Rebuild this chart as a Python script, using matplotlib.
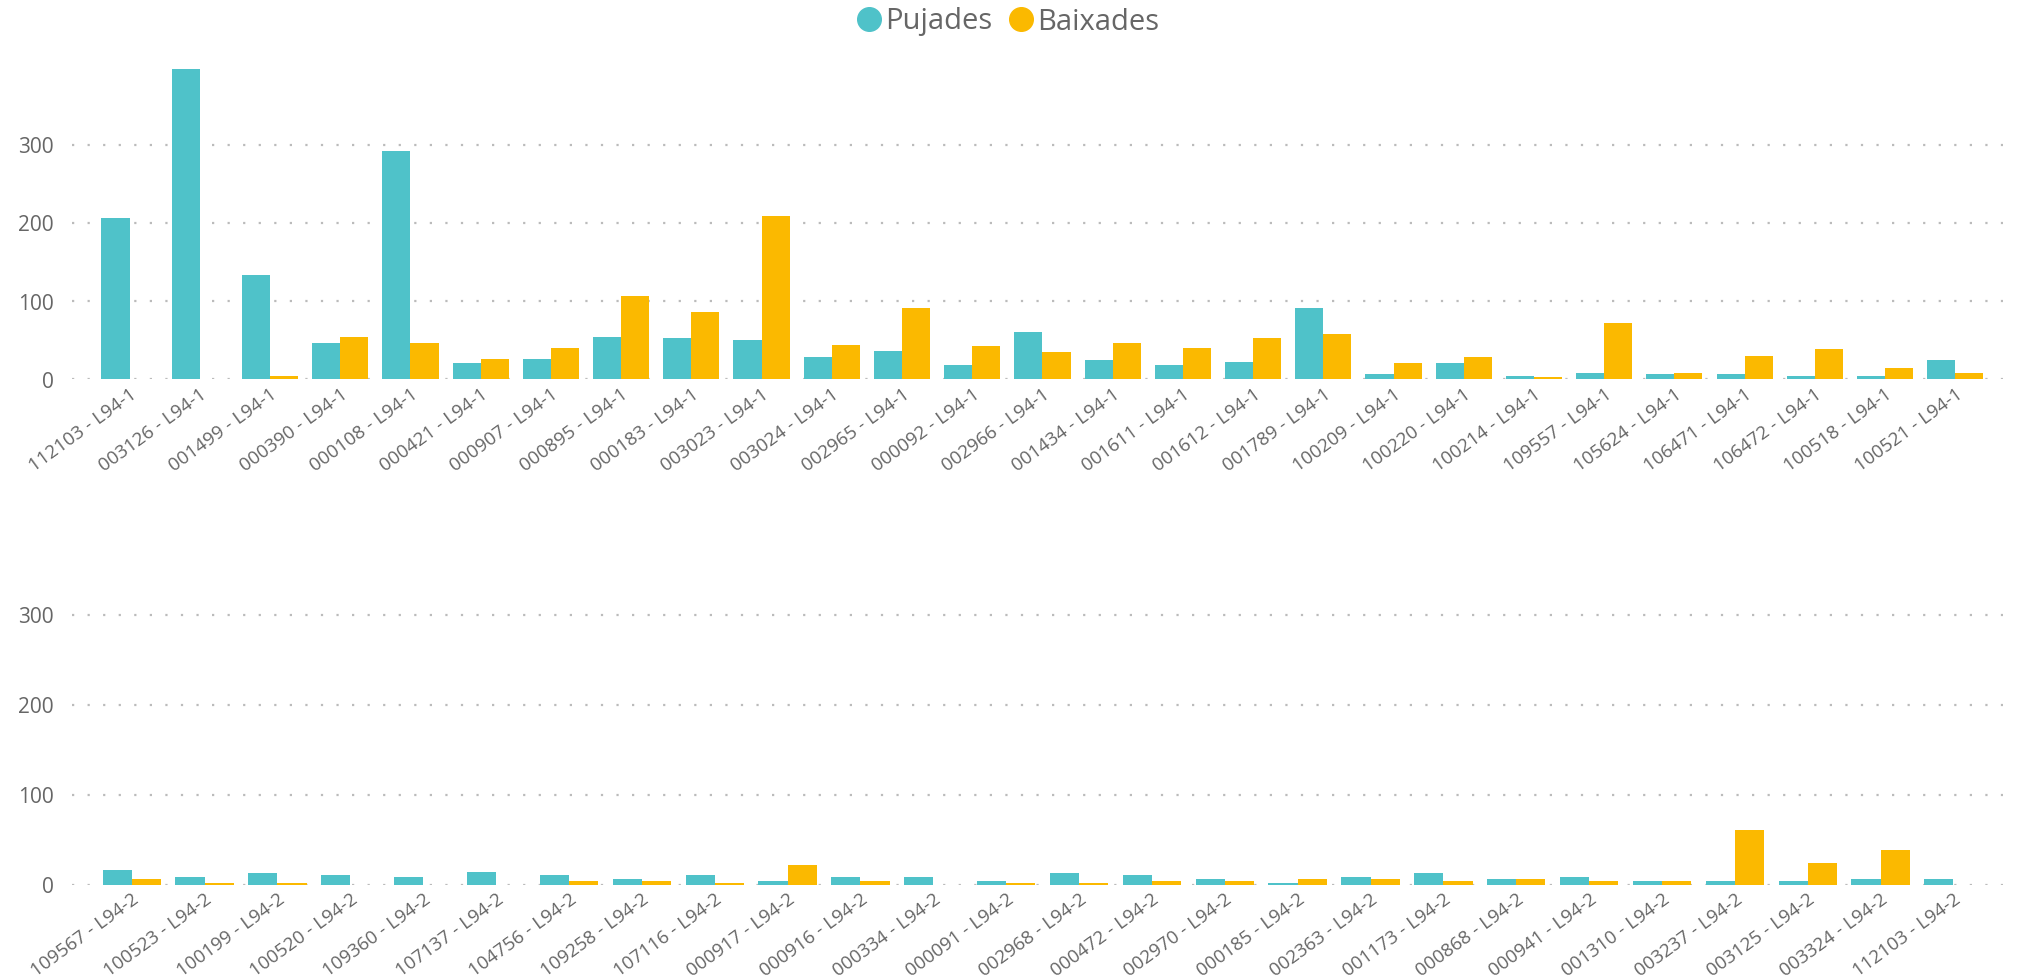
import numpy as np
import matplotlib
matplotlib.use("Agg")
import matplotlib.pyplot as plt
from matplotlib.lines import Line2D

plt.rcParams['font.family'] = ['Open Sans', 'DejaVu Sans']

# --- data ---
labels_1 = ["112103", "003126", "001499", "000390", "000108", "000421", "000907",
            "000895", "000183", "003023", "003024", "002965", "000092", "002966",
            "001434", "001611", "001612", "001789", "100209", "100220", "100214",
            "109557", "105624", "106471", "106472", "100518", "100521"]
pujades_1 = [207, 398, 134, 47, 293, 21, 26, 54, 53, 51, 29, 36, 19, 61,
             25, 19, 22, 92, 7, 21, 4, 8, 7, 7, 4, 4, 25]
baixades_1 = [0, 0, 4, 55, 47, 26, 40, 107, 87, 210, 44, 92, 43, 35,
              47, 40, 53, 58, 21, 29, 3, 72, 8, 30, 39, 15, 8]

labels_2 = ["109567", "100523", "100199", "100520", "109360", "107137", "104756",
            "109258", "107116", "000917", "000916", "000334", "000091", "002968",
            "000472", "002970", "000185", "002363", "001173", "000868", "000941",
            "001310", "003237", "003125", "003324", "112103"]
pujades_2 = [17, 9, 13, 11, 9, 15, 11, 7, 11, 4, 9, 9, 4, 13,
             11, 7, 2, 9, 13, 7, 9, 4, 4, 4, 7, 7]
baixades_2 = [7, 2, 2, 0, 0, 0, 4, 4, 2, 22, 4, 0, 2, 2,
              4, 4, 7, 7, 4, 7, 4, 4, 61, 24, 39, 0]

TEAL = "#4FC2C9"
YELLOW = "#FBB900"
GREY = "#666666"


def draw(ax, labels, suffix, pujades, baixades):
    x = np.arange(len(labels))
    w = 0.4
    ax.bar(x - w / 2, pujades, width=w, color=TEAL, zorder=2)
    ax.bar(x + w / 2, baixades, width=w, color=YELLOW, zorder=2)
    ax.set_xlim(-0.82, len(labels) - 1 + 0.68)
    ax.set_ylim(0, 400)
    ax.set_yticks([0, 100, 200, 300])
    ax.set_xticks(x)
    ax.set_xticklabels([l + " - " + suffix for l in labels], rotation=36,
                       ha='right', va='top', rotation_mode='anchor',
                       fontsize=13.5, color=GREY)
    ax.tick_params(axis='y', labelsize=15, labelcolor=GREY, length=0, pad=13)
    ax.tick_params(axis='x', length=0, pad=4)
    ax.yaxis.grid(True, color="#BBBBBB", linestyle=(0, (1, 6)), linewidth=1.6, zorder=0)
    for s in ax.spines.values():
        s.set_visible(False)
    ax.set_axisbelow(True)


fig = plt.figure(figsize=(20.17, 9.8), dpi=100)
ax1 = fig.add_axes([72 / 2017, 1 - 379.5 / 980, 1931 / 2017, 312 / 980])
ax2 = fig.add_axes([72 / 2017, 1 - 885 / 980, 1931 / 2017, 360 / 980])

draw(ax1, labels_1, "L94-1", pujades_1, baixades_1)
draw(ax2, labels_2, "L94-2", pujades_2, baixades_2)

handles = [Line2D([], [], marker='o', linestyle='', markersize=17, color=TEAL),
           Line2D([], [], marker='o', linestyle='', markersize=17, color=YELLOW)]
leg = fig.legend(handles, ["Pujades", "Baixades"], loc='center',
                 bbox_to_anchor=(1007 / 2017, 1 - 22 / 980), ncol=2, frameon=False,
                 fontsize=21, handletextpad=0.05, columnspacing=0.5, handlelength=1.0)
for t in leg.get_texts():
    t.set_color(GREY)

fig.savefig("out.png", dpi=100)
